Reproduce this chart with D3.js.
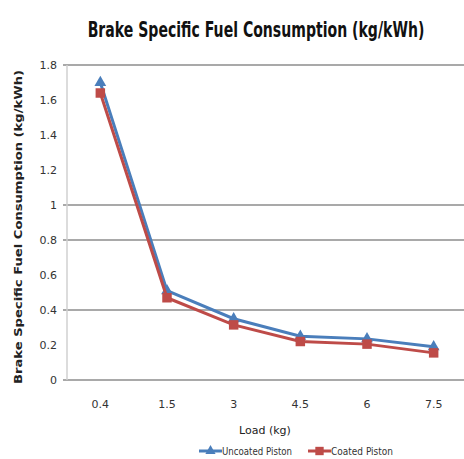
<!DOCTYPE html>
<html>
<head>
<meta charset="utf-8">
<script src="https://cdn.jsdelivr.net/npm/d3@7"></script>
<style>
  body { margin: 0; background: #fff; }
  svg { display: block; }
</style>
</head>
<body>
<svg id="chart" width="464" height="459"></svg>
<script>
const loads = ["0.4", "1.5", "3", "4.5", "6", "7.5"];
const uncoated = [1.70, 0.51, 0.35, 0.25, 0.235, 0.19];
const coated = [1.64, 0.47, 0.315, 0.22, 0.205, 0.155];
const yTicks = [0, 0.2, 0.4, 0.6, 0.8, 1, 1.2, 1.4, 1.6, 1.8];
const gridTicks = [0, 0.4, 0.8, 1, 1.8];

const svg = d3.select("#chart");
const font = "'DejaVu Sans', sans-serif";

const x = d3.scaleBand().domain(loads).range([67, 467]);
const y = d3.scaleLinear().domain([0, 1.8]).range([380, 65]);

// squeeze a text horizontally to a target width (the reference uses a condensed face)
function squeeze(sel, cx, cy, w) {
  const natural = sel.node().getComputedTextLength();
  const k = Math.min(1, w / natural);
  sel.attr("text-anchor", "middle")
    .attr("transform", `translate(${cx},${cy}) scale(${k},1)`);
}

// gridlines
svg.append("g").selectAll("line")
  .data(gridTicks)
  .join("line")
  .attr("x1", 63).attr("x2", 464)
  .attr("y1", d => y(d)).attr("y2", d => y(d))
  .attr("stroke", "#8c8c8c")
  .attr("stroke-width", 1.3);

// vertical axis line
svg.append("line")
  .attr("x1", 67).attr("x2", 67)
  .attr("y1", y(1.8)).attr("y2", y(0))
  .attr("stroke", "#d0d0d0")
  .attr("stroke-width", 1.5);

// y tick labels
svg.append("g").selectAll("text")
  .data(yTicks)
  .join("text")
  .attr("x", 57)
  .attr("y", d => y(d) + 4)
  .attr("text-anchor", "end")
  .attr("font-family", font)
  .attr("font-size", 11)
  .attr("fill", "#333")
  .text(d => d);

// x tick labels
svg.append("g").selectAll("text")
  .data(loads)
  .join("text")
  .attr("x", d => x(d) + x.bandwidth() / 2)
  .attr("y", 408)
  .attr("text-anchor", "middle")
  .attr("font-family", font)
  .attr("font-size", 11)
  .attr("fill", "#333")
  .text(d => d);

const line = d3.line()
  .x((d, i) => x(loads[i]) + x.bandwidth() / 2)
  .y(d => y(d));

function drawSeries(vals, color, shape) {
  svg.append("path")
    .datum(vals)
    .attr("fill", "none")
    .attr("stroke", color)
    .attr("stroke-width", 3)
    .attr("d", line);
  svg.append("g").selectAll("path")
    .data(vals)
    .join("path")
    .attr("transform", (d, i) => `translate(${x(loads[i]) + x.bandwidth() / 2},${y(d)})`)
    .attr("d", d3.symbol().type(shape).size(shape === d3.symbolSquare ? 90 : 60))
    .attr("fill", color);
}

drawSeries(uncoated, "#4a7ebb", d3.symbolTriangle);
drawSeries(coated, "#be4b48", d3.symbolSquare);

// title
const title = svg.append("text")
  .attr("font-family", font)
  .attr("font-size", 21)
  .attr("font-weight", "bold")
  .attr("fill", "#111")
  .text("Brake Specific Fuel Consumption (kg/kWh)");
squeeze(title, 256, 37, 337);

// y axis title
svg.append("text")
  .attr("transform", "translate(22,384) rotate(-90)")
  .attr("textLength", 314)
  .attr("lengthAdjust", "spacingAndGlyphs")
  .attr("font-family", font)
  .attr("font-size", 11)
  .attr("font-weight", "bold")
  .attr("fill", "#222")
  .text("Brake  Specific Fuel Consumption (kg/kWh)");

// x axis title
svg.append("text")
  .attr("x", 265)
  .attr("y", 434)
  .attr("text-anchor", "middle")
  .attr("font-family", font)
  .attr("font-size", 11)
  .attr("fill", "#222")
  .text("Load (kg)");

// legend
const legend = [
  { name: "Uncoated Piston", color: "#4a7ebb", shape: d3.symbolTriangle },
  { name: "Coated Piston", color: "#be4b48", shape: d3.symbolSquare }
];
const legendX = [199, 308];
const legendW = [70, 62];
const lg = svg.append("g");
legend.forEach((s, i) => {
  const lx = legendX[i];
  lg.append("line")
    .attr("x1", lx).attr("x2", lx + 23)
    .attr("y1", 451).attr("y2", 451)
    .attr("stroke", s.color)
    .attr("stroke-width", 3);
  lg.append("path")
    .attr("transform", `translate(${lx + 11.5},451)`)
    .attr("d", d3.symbol().type(s.shape).size(s.shape === d3.symbolSquare ? 70 : 45))
    .attr("fill", s.color);
  lg.append("text")
    .attr("x", lx + 23)
    .attr("y", 455)
    .attr("textLength", legendW[i])
    .attr("lengthAdjust", "spacingAndGlyphs")
    .attr("font-family", font)
    .attr("font-size", 11)
    .attr("fill", "#333")
    .text(s.name);
});
</script>
</body>
</html>
